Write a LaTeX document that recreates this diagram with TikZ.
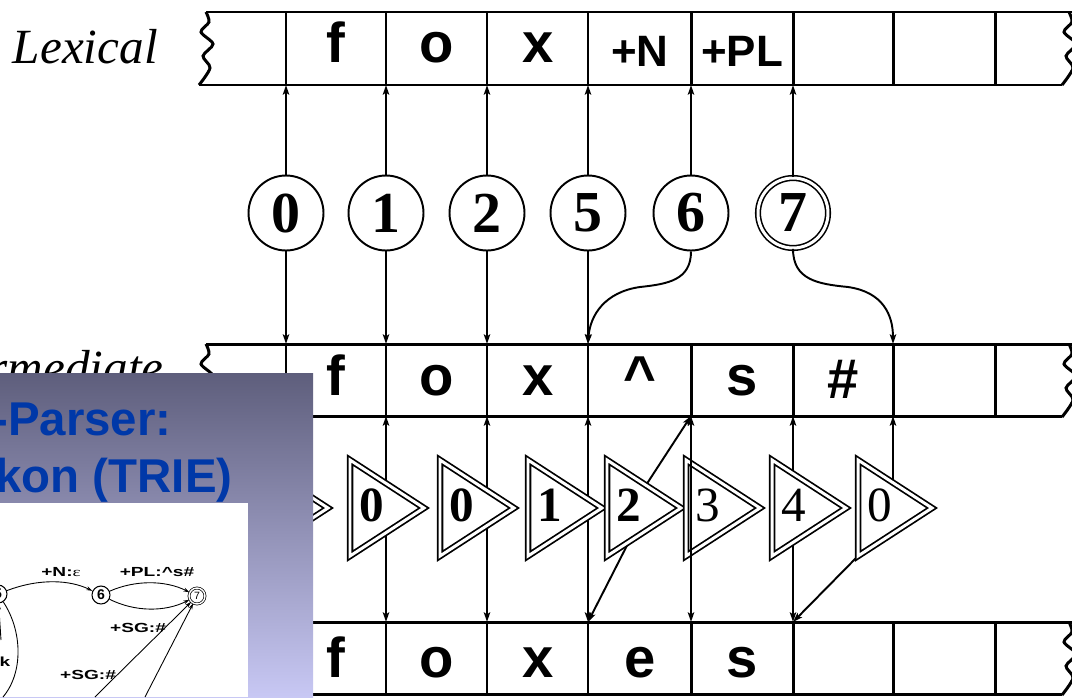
\documentclass[tikz,border=0pt]{standalone}
\usepackage{fontspec}
\setmainfont{Liberation Serif}
\setsansfont{Liberation Sans}
\usetikzlibrary{arrows.meta}
\definecolor{ovtop}{RGB}{94,94,124}
\definecolor{ovbot}{RGB}{200,200,244}
\definecolor{ttl}{RGB}{0,56,168}
\tikzset{
  tapeline/.style={line width=1.7pt},
  arr/.style={line width=1.1pt,-{Stealth[length=5.5pt,width=3.6pt,inset=1.2pt]}},
  barr/.style={line width=1.1pt,{Stealth[length=5.5pt,width=3.6pt,inset=1.2pt]}-{Stealth[length=5.5pt,width=3.6pt,inset=1.2pt]}},
  tapetxt/.style={font=\sffamily\bfseries\fontsize{32}{32}\selectfont, anchor=base, inner sep=0},
  tagtxt/.style={font=\sffamily\bfseries\fontsize{25}{25}\selectfont, anchor=base, inner sep=0},
  lbltxt/.style={font=\itshape\fontsize{28}{28}\selectfont, anchor=base east, inner sep=0},
  state/.style={circle, draw, line width=1.1pt, minimum size=1.5cm, inner sep=0, font=\bfseries\fontsize{33}{33}\selectfont},
  final/.style={circle, draw, double, double distance=1.7pt, line width=0.9pt, minimum size=1.4cm, inner sep=0, font=\bfseries\fontsize{33}{33}\selectfont},
  tri/.style={draw, double, double distance=1.7pt, line width=1pt, fill=white, line join=miter},
  tridig/.style={font=\bfseries\fontsize{28}{28}\selectfont, inner sep=0},
  tridigr/.style={font=\fontsize{28}{28}\selectfont, inner sep=0},
  ttltxt/.style={font=\sffamily\bfseries\fontsize{27}{27}\selectfont, text=ttl, anchor=base east, inner sep=0},
  fsts/.style={circle, draw, line width=0.6pt, minimum size=0.36cm, inner sep=0, font=\sffamily\bfseries\fontsize{8}{8}\selectfont},
  fstf/.style={circle, draw, double, double distance=0.8pt, line width=0.4pt, minimum size=0.32cm, inner sep=0, font=\sffamily\fontsize{6}{6}\selectfont},
  farr/.style={line width=0.5pt,-{Stealth[length=3.5pt,width=2.2pt]}},
  fline/.style={line width=0.5pt},
  flbl/.style={font=\sffamily\bfseries\fontsize{7.5}{7.5}\selectfont, xscale=1.45, inner sep=0}
}
\newcommand\mytri[4]{%
  \draw[tri] (#2,460) -- (#2+74,508) -- (#2,556) -- cycle;
  \node[#4] (#1) at (#2+22,505) {#3};}
\newcommand\squigL[2]{% x offset, y offset
  \draw[tapeline] plot[smooth] coordinates {(#1+206,#2+12) (#1+209,#2+22) (#1+201,#2+32) (#1+213,#2+44) (#1+203,#2+56) (#1+210,#2+68) (#1+199,#2+85)};}
\begin{document}
\begin{tikzpicture}[x=0.02cm,y=-0.02cm]
\useasboundingbox (0,0) rectangle (1072,697);
\clip (0,0) rectangle (1072,697);

% ---------- tapes ----------
% lexical
\draw[tapeline] (206,12) -- (1080,12);
\draw[tapeline] (199,85) -- (1062,85);
\squigL{0}{0}
\squigL{863}{0}
\foreach \x in {286,386,487,588,691,793,893,995} \draw[tapeline] (\x,12) -- (\x,85);
% intermediate
\draw[tapeline] (206,344) -- (1080,344);
\draw[tapeline] (199,416) -- (1062,416);
\squigL{0}{332}
\squigL{863}{332}
\foreach \x in {286,386,487,588,691,793,893,995} \draw[tapeline] (\x,344) -- (\x,416);
% surface
\draw[tapeline] (206,622) -- (1080,622);
\draw[tapeline] (199,694) -- (1062,694);
\squigL{863}{610}
\foreach \x in {286,386,487,588,691,793,893,995} \draw[tapeline] (\x,622) -- (\x,694);

% tape coordinates
\foreach \n/\x in {1/286,2/386,3/487,4/588,5/691,6/793,7/893}{
  \coordinate (L\n b) at (\x,85);
  \coordinate (I\n t) at (\x,344);
  \coordinate (I\n b) at (\x,416);
  \coordinate (S\n t) at (\x,622);
}

% tape labels
\node[lbltxt] (lex) at (158,63) {Lexical};
\node[lbltxt] (inter) at (164,384) {Intermediate};

\node[tapetxt] (lf) at (336,62) {f};
\node[tapetxt] (lo) at (437,62) {o};
\node[tapetxt] (lx) at (538,62) {x};
\node[tagtxt] (lN) at (640,66) {+N};
\node[tagtxt] (lPL) at (742,66) {+PL};

\node[tapetxt] (if) at (336,395) {f};
\node[tapetxt] (io) at (437,395) {o};
\node[tapetxt] (ix) at (538,395) {x};
\node[tapetxt] (ic) at (640,395) {\textasciicircum};
\node[tapetxt] (is) at (742,395) {s};
\node[tapetxt] (ih) at (843,398) {\#};

\node[tapetxt] (sf) at (336,677) {f};
\node[tapetxt] (so) at (437,677) {o};
\node[tapetxt] (sx) at (538,677) {x};
\node[tapetxt] (se) at (640,677) {e};
\node[tapetxt] (ss) at (742,677) {s};

% ---------- lexicon states ----------
\node[state] (c0) at (286,213) {0};
\node[state] (c1) at (386,213) {1};
\node[state] (c2) at (487,213) {2};
\node[state] (c5) at (588,213) {5};
\node[state] (c6) at (691,213) {6};
\node[final] (c7) at (793,213) {7};

\draw[arr] (c0) -- (L1b);
\draw[arr] (c1) -- (L2b);
\draw[arr] (c2) -- (L3b);
\draw[arr] (c5) -- (L4b);
\draw[arr] (c6) -- (L5b);
\draw[arr] (c7) -- (L6b);

\draw[arr] (c0) -- (I1t);
\draw[arr] (c1) -- (I2t);
\draw[arr] (c2) -- (I3t);
\draw[arr] (c5) -- (I4t);
\draw[arr] (c6.south) .. controls (691,280) and (668,284) .. (640,287) .. controls (605,292) and (590,315) .. (I4t);
\draw[arr] (c7.south) .. controls (793,280) and (818,284) .. (848,287) .. controls (883,292) and (893,315) .. (I7t);

% ---------- e-insertion machine ----------
\draw[barr] (I2b) -- (S2t);
\draw[barr] (I3b) -- (S3t);
\draw[barr] (I4b) -- (S4t);
\coordinate (t4a) at (635,502);
\coordinate (t4b) at (640,520);
\draw[arr] (t4a) -- (I5b);
\draw[arr] (t4b) -- (S4t);
\draw[barr] (I6b) -- (S6t);
\coordinate (t7a) at (893,500);
\coordinate (t7b) at (858,556);
\draw[arr] (t7a) -- (I7b);
\draw[arr] (t7b) -- (S6t);

\mytri{T0}{254}{0}{tridig}
\mytri{T1}{350}{0}{tridig}
\mytri{T2}{440}{0}{tridig}
\mytri{T3}{528}{1}{tridig}
\mytri{T4}{607}{2}{tridig}
\mytri{T5}{686}{3}{tridigr}
\mytri{T6}{772}{4}{tridigr}
\mytri{T7}{858}{0}{tridigr}
\draw[barr] (I5b) -- (S5t);

% ---------- overlay slide ----------
\shade[top color=ovtop, bottom color=ovbot] (0,373) rectangle (313,697);
\node[ttltxt] (ttl1) at (172,435) {-Parser:};
\node[ttltxt] (ttl2) at (233,492) {kon (TRIE)};
\fill[white] (0,503) rectangle (248,697);

% small FST fragment
\node[fsts] (f5) at (-2,594) {5};
\node[fsts] (f6) at (101,595) {6};
\node[fstf] (f7) at (197,596) {7};
\draw[farr] (f5) .. controls (40,578) and (70,580) .. (f6);
\draw[farr] (f6) .. controls (135,580) and (165,580) .. (f7);
\draw[farr] (f6) .. controls (135,612) and (165,612) .. (f7);
\coordinate (fa) at (95,697);
\coordinate (fb) at (145,697);
\coordinate (fc) at (3,697);
\coordinate (fd) at (1,640);
\draw[farr] (fa) .. controls (130,662) and (165,628) .. (f7);
\draw[farr] (fb) -- (f7);
\draw[fline] (f5) .. controls (22,630) and (24,672) .. (fc);
\draw[farr] (fd) -- (f5);
\node[flbl] (l1) at (61,572) {+N:{\rmfamily\mdseries ε}};
\node[flbl] (l2) at (157,572) {+PL:\textasciicircum s\#};
\node[flbl] (l3) at (138,628) {+SG:\#};
\node[flbl] (l4) at (88,675) {+SG:\#};
\node[flbl] (l5) at (5,662) {k};
\end{tikzpicture}
\end{document}
